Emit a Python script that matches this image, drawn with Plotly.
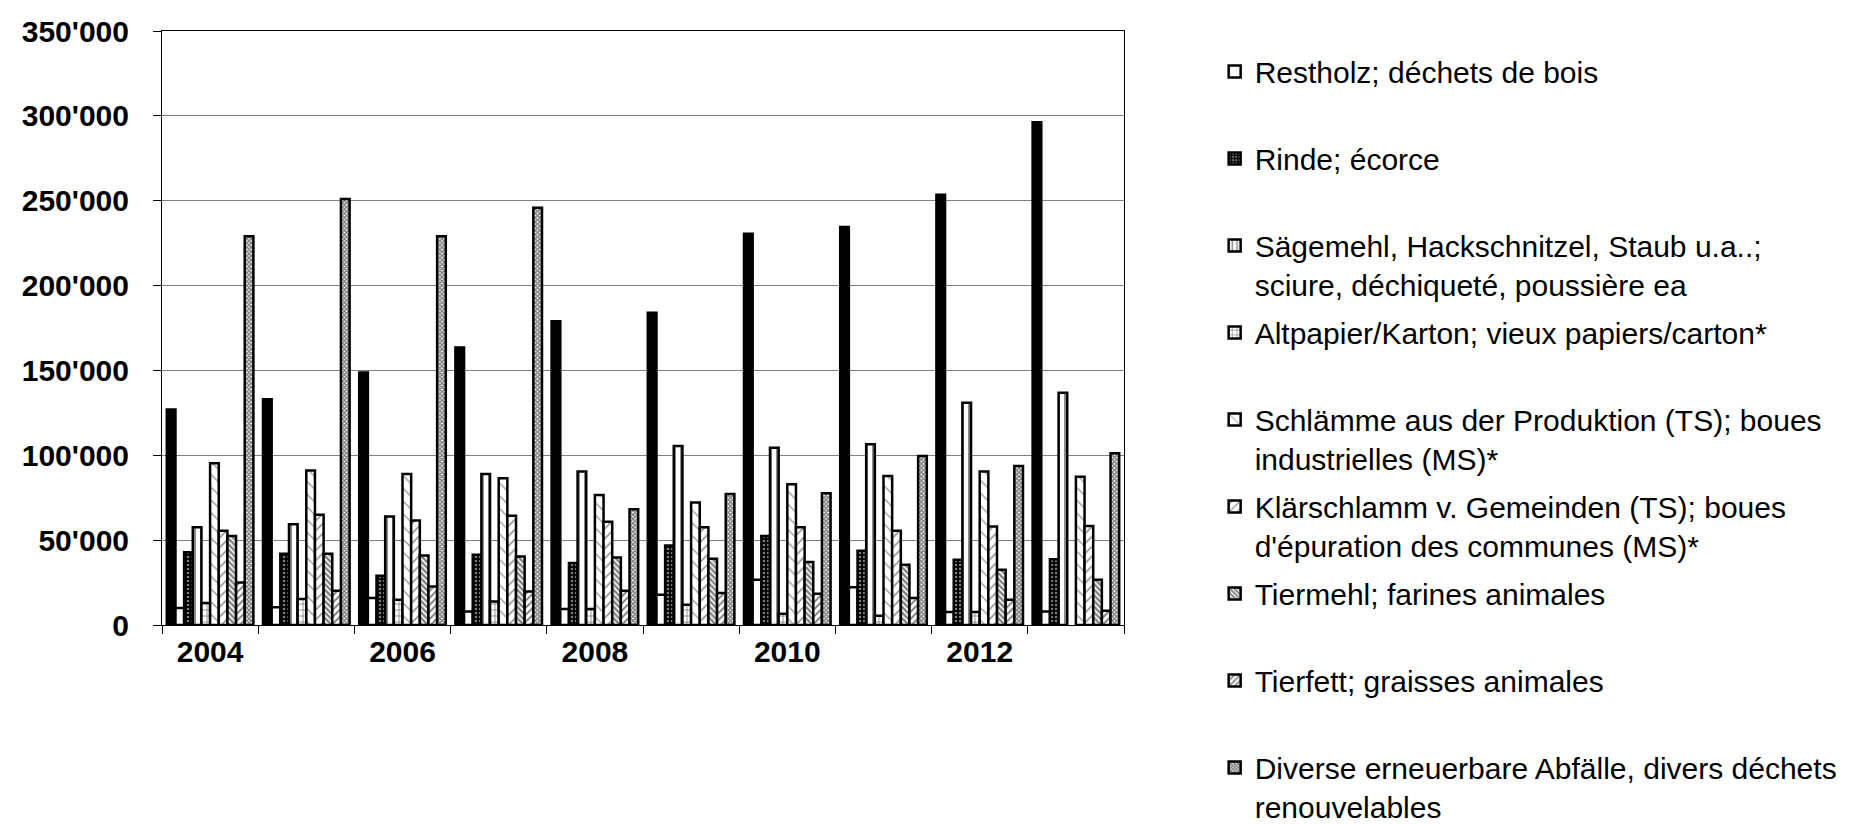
import plotly.graph_objects as go

years = ["2004", "2005", "2006", "2007", "2008", "2009", "2010", "2011", "2012", "2013"]
tick_labels = ["2004", "", "2006", "", "2008", "", "2010", "", "2012", ""]

altholz = [127000, 133000, 148800, 163500, 179000, 184000, 230600, 234500, 253500, 296300]
restholz = [10000, 10400, 15900, 8000, 9400, 17800, 26700, 22200, 7600, 8000]
rinde = [42800, 42000, 29000, 41400, 36500, 46900, 52500, 43700, 38400, 38800]
saegemehl = [57600, 59400, 63900, 89000, 90400, 105500, 104500, 106500, 131000, 136900]
altpapier = [12900, 15300, 14900, 13900, 9400, 11900, 6600, 5500, 7600, None]
schlaemme = [95300, 91000, 89000, 86500, 76600, 72200, 82900, 87800, 90400, 87400]
klaerschlamm = [55500, 64900, 61600, 64300, 60800, 57600, 57600, 55500, 58000, 58400]
tiermehl = [52500, 42000, 41000, 40400, 39800, 39000, 37100, 35500, 32500, 26700]
tierfett = [25100, 20200, 22700, 19800, 20200, 18800, 18400, 15900, 14900, 8400]
diverse = [229000, 251000, 229000, 245900, 68200, 77200, 77600, 99600, 93700, 101200]

names = [
    "Altholz; bois usagé",
    "Restholz; déchets de bois",
    "Rinde; écorce",
    "Sägemehl, Hackschnitzel, Staub u.a..;<br>sciure, déchiqueté, poussière ea",
    "Altpapier/Karton; vieux papiers/carton*",
    "Schlämme aus der Produktion (TS); boues<br>industrielles (MS)*",
    "Klärschlamm v. Gemeinden (TS); boues<br>d'épuration des communes (MS)*",
    "Tiermehl; farines animales",
    "Tierfett; graisses animales",
    "Diverse erneuerbare Abfälle, divers déchets<br>renouvelables",
]
series = [altholz, restholz, rinde, saegemehl, altpapier, schlaemme,
          klaerschlamm, tiermehl, tierfett, diverse]

# (marker color, pattern dict)
styles = [
    ("black", None),
    ("white", None),
    ("black", dict(shape=".", bgcolor="black", fgcolor="white", size=4, solidity=0.3)),
    ("white", dict(shape="|", bgcolor="white", fgcolor="black", size=6, solidity=0.3)),
    ("white", dict(shape="+", bgcolor="white", fgcolor="black", size=6, solidity=0.25)),
    ("white", dict(shape="\\", bgcolor="white", fgcolor="black", size=9, solidity=0.12)),
    ("white", dict(shape="/", bgcolor="white", fgcolor="black", size=7, solidity=0.2)),
    ("white", dict(shape="\\", bgcolor="white", fgcolor="black", size=4, solidity=0.6)),
    ("white", dict(shape="/", bgcolor="white", fgcolor="black", size=5, solidity=0.4)),
    ("white", dict(shape="x", bgcolor="white", fgcolor="black", size=3, solidity=0.7)),
]

FONT = "Liberation Sans, Arial, sans-serif"

fig = go.Figure()
for i, (name, vals) in enumerate(zip(names, series)):
    color, pat = styles[i]
    label = name if "<br>" in name else name + "<br>\u00a0"
    marker = dict(color=color, line=dict(color="black", width=2.5))
    if pat:
        marker["pattern"] = pat
    fig.add_trace(go.Bar(x=years, y=vals, name=label, marker=marker,
                         legendgroup=f"g{i}"))

fig.update_layout(
    width=1865, height=825,
    margin=dict(l=0, r=0, t=0, b=0, autoexpand=False),
    paper_bgcolor="white", plot_bgcolor="white",
    barmode="group", bargap=0.1, bargroupgap=0,
    separators=".'",
    font=dict(family=FONT, color="black"),
    legend=dict(x=0.647, xanchor="left", y=1.06, yanchor="top", valign="top",
                tracegroupgap=6, itemwidth=30,
                font=dict(size=30, family=FONT, color="black"),
                bgcolor="rgba(0,0,0,0)"),
    xaxis=dict(domain=[154 / 1865, 1116 / 1865], type="category",
               tickvals=years, ticktext=tick_labels, tickson="boundaries",
               ticks="outside", ticklen=8, tickcolor="black",
               showline=True, linecolor="black", linewidth=1, mirror=True,
               tickfont=dict(size=30, family=FONT, color="black", weight="bold"),
               showgrid=False),
    yaxis=dict(domain=[(825 - 617) / 825, (825 - 23) / 825], range=[0, 350000],
               dtick=50000, tickformat=",d", ticks="outside", ticklen=8,
               tickcolor="black", showline=True, linecolor="black", linewidth=1,
               mirror=True, gridcolor="#808080", gridwidth=1,
               tickfont=dict(size=30, family=FONT, color="black", weight="bold"),
               zeroline=False),
)
try:
    fig.update_layout(yaxis_ticklabelstandoff=18)
except Exception:
    pass
try:
    fig.update_layout(legend_maxheight=2000)
except Exception:
    pass

fig.write_html("out.html")
